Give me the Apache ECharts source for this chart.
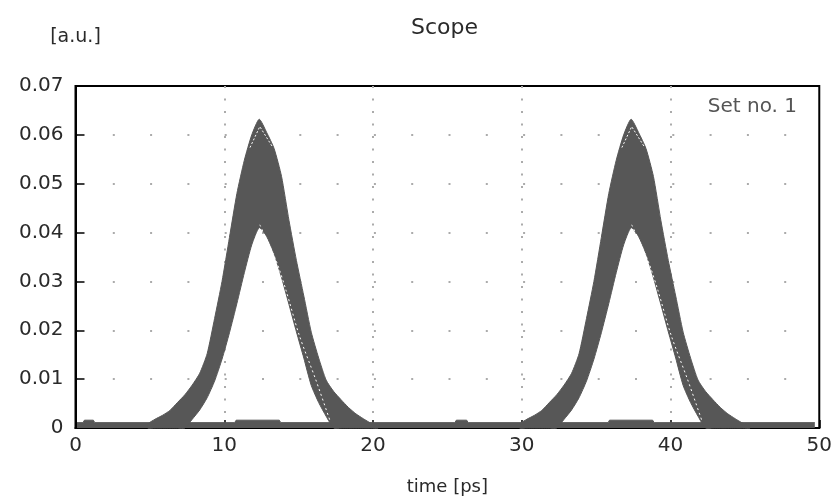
<!DOCTYPE html>
<html>
<head>
<meta charset="utf-8">
<script src="https://cdn.jsdelivr.net/npm/echarts@6/dist/echarts.min.js"></script>
<style>
  html, body { margin: 0; padding: 0; background: #fff; }
  #chart { width: 835px; height: 501px; }
</style>
</head>
<body>
<div id="chart"></div>
<script>
// ---- data ----
const titleText = 'Scope';
const yUnit = '[a.u.]';
const xName = 'time [ps]';
const setLabel = 'Set no. 1';

// pulse envelope (shape relative to the pulse position); pulses sit at these time offsets
const pulseOffsets = [-0.15, 24.85];
const pulseT = [5.0, 5.5, 6.0, 6.5, 7.0, 7.5, 8.0, 8.5, 9.0, 9.5, 10.0, 10.5, 11.0, 11.5, 12.0, 12.5,
                13.0, 13.5, 14.0, 14.5, 15.0, 15.5, 16.0, 16.5, 17.0, 17.5, 18.0, 18.5, 19.0, 19.5, 20.0, 20.5];
// upper (outer) edge of the trace bundle
const outerV = [0.0008, 0.0018, 0.0026, 0.0036, 0.0052, 0.0068, 0.0088, 0.0112, 0.0152, 0.0224, 0.0300, 0.0390, 0.0480, 0.0548, 0.0600, 0.0632,
                0.0605, 0.0572, 0.0515, 0.0425, 0.0343, 0.0270, 0.0196, 0.0143, 0.0098, 0.0075, 0.0058, 0.0042, 0.0029, 0.0019, 0.0010, 0.0005];
// lower (inner) edge of the trace bundle
const innerV = [0, 0, 0, 0, 0, 0, 0.0018, 0.0037, 0.0062, 0.0096, 0.0141, 0.0195, 0.0255, 0.0318, 0.0375, 0.0410,
                0.0392, 0.0357, 0.0308, 0.0253, 0.0197, 0.0143, 0.0087, 0.0052, 0.0024, 0, 0, 0, 0, 0, 0, 0];

// thin white gaps between individual traces (top of the bundle and next to the inner edge)
const topGapT = [11.88, 12.54, 13.42];
const topGapV = [0.0574, 0.0617, 0.0574];
const innerGapT = [12.54, 13.64, 14.30, 15.19, 16.30, 17.28];
const innerGapV = [0.0416, 0.0342, 0.0282, 0.0190, 0.0099, 0.0013];

// zero-level traces (the "0" bits)
const zeroT   = [0.1, 0.5, 0.6, 1.2, 1.3, 10.7, 10.8, 13.7, 13.8, 25.5, 25.6, 26.3, 26.4, 35.8, 35.9, 38.8, 38.9, 49.7];
const zeroTop = [0.0011, 0.0011, 0.0016, 0.0016, 0.0011, 0.0011, 0.0016, 0.0016, 0.0011, 0.0011, 0.0016, 0.0016, 0.0011, 0.0011, 0.0016, 0.0016, 0.0011, 0.0011];

const xTicks = { min: 0, max: 50, interval: 10 };
const yTicks = { min: 0, max: 0.07, interval: 0.01 };

// ---- chart ----
const FONT = 'DejaVu Sans';
const TXT = '#2a2a2a';
const BAND = '#575757';

const series = [];
series.push({
  type: 'line', name: 'zero', data: zeroT.map((t, i) => [t, zeroTop[i]]),
  showSymbol: false, lineStyle: { width: 1, color: BAND }, areaStyle: { color: BAND, opacity: 1 },
  silent: true, z: 3
});
// each pulse: closed band between the outer and the inner edge, placed through the axes' scales
series.push({
  type: 'custom', silent: true, z: 4,
  data: pulseOffsets.map(off => [off]),
  renderItem: function (params, api) {
    const off = api.value(0);
    const pts = [];
    for (let i = 0; i < pulseT.length; i++) pts.push(api.coord([pulseT[i] + off, outerV[i]]));
    for (let i = pulseT.length - 1; i >= 0; i--) pts.push(api.coord([pulseT[i] + off, innerV[i]]));
    return {
      type: 'polygon',
      shape: { points: pts, smooth: 0.2 },
      style: { fill: BAND, stroke: BAND, lineWidth: 1 }
    };
  }
});
pulseOffsets.forEach(off => {
  series.push({
    type: 'line', silent: true, z: 5, showSymbol: false,
    data: topGapT.map((t, i) => [t + off, topGapV[i]]),
    lineStyle: { color: '#ffffff', width: 1, type: [2, 2] }
  });
  series.push({
    type: 'line', silent: true, z: 5, showSymbol: false, smooth: 0.3,
    data: innerGapT.map((t, i) => [t + off, innerGapV[i]]),
    lineStyle: { color: '#ffffff', width: 1, type: [2, 3] }
  });
});

const chart = echarts.init(document.getElementById('chart'), null, { renderer: 'canvas' });
chart.setOption({
  animation: false,
  backgroundColor: '#fff',
  grid: { left: 75.5, right: 12.5, top: 86, bottom: 61, show: true, borderColor: '#000', borderWidth: 2, backgroundColor: 'transparent' },
  xAxis: {
    type: 'value', min: xTicks.min, max: xTicks.max, interval: xTicks.interval,
    name: xName, nameLocation: 'middle', nameGap: 50,
    nameTextStyle: { fontFamily: FONT, fontSize: 18, color: TXT },
    axisLine: { show: true, lineStyle: { color: '#000', width: 2 } },
    axisTick: { show: true, inside: true, length: 8, lineStyle: { color: '#000', width: 1.5 } },
    axisLabel: { fontFamily: FONT, fontSize: 20, color: TXT, margin: 8 },
    splitLine: { show: true, showMinLine: false, showMaxLine: false, lineStyle: { color: '#ababab', width: 2, type: [2, 10.5] } }
  },
  yAxis: {
    type: 'value', min: yTicks.min, max: yTicks.max, interval: yTicks.interval,
    name: yUnit, nameLocation: 'end', nameGap: 39,
    nameTextStyle: { fontFamily: FONT, fontSize: 19, color: TXT, align: 'center' },
    axisLine: { show: true, lineStyle: { color: '#000', width: 2 } },
    axisTick: { show: true, inside: true, length: 9, lineStyle: { color: '#000', width: 1.5 } },
    axisLabel: { fontFamily: FONT, fontSize: 20, color: TXT, margin: 12 },
    splitLine: { show: true, showMinLine: false, showMaxLine: false, lineStyle: { color: '#ababab', width: 2, type: [2, 35.3] } }
  },
  graphic: [
    { type: 'text', left: 448 - 37, top: 17, style: { text: titleText, font: '22px "DejaVu Sans"', fill: TXT } },
    { type: 'text', right: 835 - 797, top: 97, style: { text: setLabel, font: '20px "DejaVu Sans"', fill: '#555' } }
  ],
  series: series
});
</script>
</body>
</html>
